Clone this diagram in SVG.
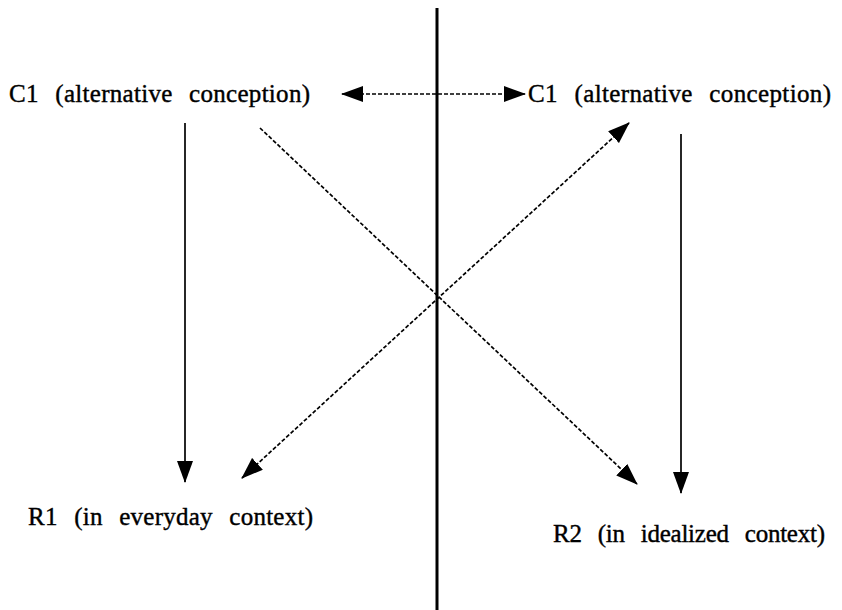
<svg xmlns="http://www.w3.org/2000/svg" width="842" height="610" viewBox="0 0 842 610">
<defs>
<style>
.t{font-family:"Liberation Serif","Times New Roman",serif;font-size:25px;fill:#000;stroke:#000;stroke-width:0.4;word-spacing:10px}
.s{stroke:#000;stroke-width:1.7;fill:none}
.d{stroke:#000;stroke-width:1.7;fill:none;stroke-dasharray:4 2}
</style>
<marker id="ah" markerWidth="22" markerHeight="16" refX="21" refY="8" orient="auto-start-reverse" markerUnits="userSpaceOnUse">
<path d="M0,0 L22,8 L0,16 Z" fill="#000"/>
</marker>
</defs>
<rect width="842" height="610" fill="#fff"/>
<line x1="437" y1="8" x2="437" y2="610" stroke="#000" stroke-width="3"/>
<g id="c1-left"><text class="t" x="9" y="102" textLength="301" lengthAdjust="spacing">C1 (alternative conception)</text></g>
<g id="c1-right"><text class="t" x="528" y="102" textLength="303" lengthAdjust="spacing">C1 (alternative conception)</text></g>
<g id="r1"><text class="t" x="28" y="525" textLength="285" lengthAdjust="spacing">R1 (in everyday context)</text></g>
<g id="r2"><text class="t" x="553" y="542" textLength="272" lengthAdjust="spacing">R2 (in idealized context)</text></g>
<g id="connectors">
<line class="d" x1="342" y1="94" x2="525" y2="94" marker-start="url(#ah)" marker-end="url(#ah)"/>
<line class="s" x1="185" y1="123" x2="185" y2="482" marker-end="url(#ah)"/>
<line class="s" x1="681" y1="134" x2="681" y2="493" marker-end="url(#ah)"/>
<line class="d" x1="260" y1="128" x2="637" y2="484" marker-end="url(#ah)"/>
<line class="d" x1="242" y1="478" x2="629" y2="123" marker-start="url(#ah)" marker-end="url(#ah)"/>
</g>
</svg>
